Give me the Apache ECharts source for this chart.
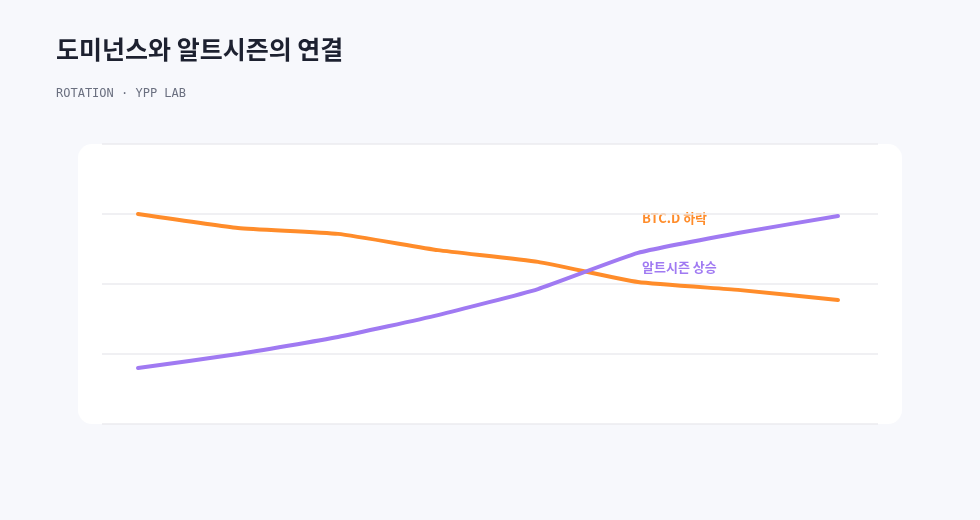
<!DOCTYPE html>
<html>
<head>
  <meta charset="utf-8">
  <title>도미넌스와 알트시즌의 연결</title>
  <script src="https://cdn.jsdelivr.net/npm/echarts@6/dist/echarts.min.js"></script>
  <style>
    html, body { margin: 0; padding: 0; background: #f7f8fc; }
    #main { width: 980px; height: 520px; }
  </style>
</head>
<body>
<div id="main"></div>
<script type="text/javascript">
  // data (y scale 0..100)
  var steps = [0, 1, 2, 3, 4, 5, 6, 7];
  var btcDominance = [75, 70, 67.9, 62.1, 57.9, 50.7, 47.9, 44.3];
  var altSeason = [20, 25, 31.1, 38.9, 48.2, 61.1, 68.2, 74.3];

  var fontKr = '"Noto Sans CJK KR", "Noto Sans", sans-serif';

  var chart = echarts.init(document.getElementById('main'));

  var option = {
    backgroundColor: '#f7f8fc',
    animation: false,
    graphic: [
      {
        type: 'rect',
        left: 78, top: 144, z: -10,
        shape: { width: 824, height: 280, r: 14 },
        style: { fill: '#ffffff' }
      },
      {
        type: 'text', left: 56, top: 37,
        style: { text: '도미넌스와 알트시즌의 연결', fill: '#1d2130', font: 'bold 25px ' + fontKr }
      },
      {
        type: 'text', left: 56, top: 88,
        style: { text: 'ROTATION · YPP LAB', fill: '#6b7080', font: '12px "DejaVu Sans Mono", monospace' }
      },
      {
        type: 'text', left: 642, top: 212,
        style: { text: 'BTC.D 하락', fill: '#ff8c2a', font: 'bold 13px ' + fontKr }
      },
      {
        type: 'text', left: 642, top: 261,
        style: { text: '알트시즌 상승', fill: '#a07af2', font: 'bold 13px ' + fontKr }
      }
    ],
    grid: { left: 102, right: 102, top: 144, bottom: 96 },
    xAxis: {
      type: 'value',
      min: -0.36, max: 7.4,
      axisLine: { show: false }, axisTick: { show: false },
      axisLabel: { show: false }, splitLine: { show: false }
    },
    yAxis: {
      type: 'value',
      min: 0, max: 100, interval: 25,
      axisLine: { show: false }, axisTick: { show: false },
      axisLabel: { show: false },
      splitLine: { lineStyle: { color: '#ebebef', width: 1.5 } }
    },
    series: [
      {
        name: 'BTC.D',
        type: 'line',
        smooth: 0.15,
        symbol: 'none',
        lineStyle: { color: '#ff8c2a', width: 4, cap: 'round' },
        data: steps.map(function (s, i) { return [s, btcDominance[i]]; })
      },
      {
        name: '알트시즌',
        type: 'line',
        smooth: 0.15,
        symbol: 'none',
        lineStyle: { color: '#a07af2', width: 4, cap: 'round' },
        data: steps.map(function (s, i) { return [s, altSeason[i]]; })
      }
    ]
  };

  chart.setOption(option);
</script>
</body>
</html>
